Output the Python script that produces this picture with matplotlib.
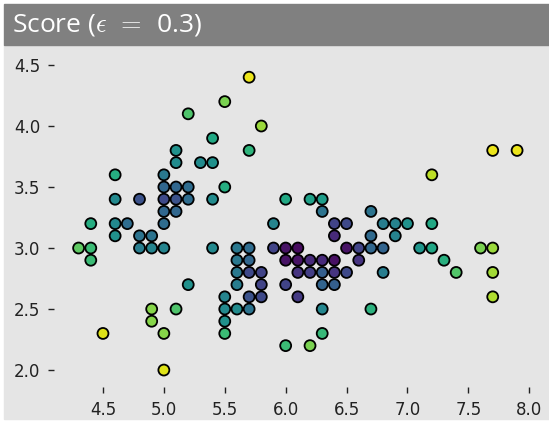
import matplotlib
matplotlib.use("Agg")
import matplotlib.pyplot as plt
from matplotlib.patches import Rectangle

# unique (sepal length, sepal width) points and their score colour value
sepal_length = [4.3, 4.4, 4.4, 4.4, 4.5, 4.6, 4.6, 4.6, 4.6, 4.7,
                4.8, 4.8, 4.8, 4.9, 4.9, 4.9, 4.9, 5.0, 5.0, 5.0,
                5.0, 5.0, 5.0, 5.0, 5.0, 5.1, 5.1, 5.1, 5.1, 5.1,
                5.1, 5.2, 5.2, 5.2, 5.2, 5.3, 5.4, 5.4, 5.4, 5.4,
                5.5, 5.5, 5.7, 5.8, 5.7, 5.5, 5.5, 5.5, 5.5, 5.6,
                5.6, 5.6, 5.6, 5.6, 5.7, 5.7, 5.7, 5.7, 5.7, 5.8,
                5.8, 5.8, 5.9, 5.9, 6.0, 6.0, 6.0, 6.0, 6.0, 6.1,
                6.1, 6.1, 6.1, 6.2, 6.2, 6.2, 6.2, 6.3, 6.3, 6.3,
                6.3, 6.3, 6.3, 6.3, 6.4, 6.4, 6.4, 6.4, 6.4, 6.5,
                6.5, 6.5, 6.6, 6.6, 6.7, 6.7, 6.7, 6.7, 6.8, 6.8,
                6.8, 6.9, 6.9, 7.0, 7.1, 7.2, 7.2, 7.2, 7.3, 7.4,
                7.6, 7.7, 7.7, 7.7, 7.7, 7.9]
sepal_width = [3.0, 3.0, 2.9, 3.2, 2.3, 3.1, 3.2, 3.4, 3.6, 3.2,
               3.4, 3.0, 3.1, 3.0, 3.1, 2.5, 2.4, 3.0, 3.2, 3.3,
               3.4, 3.5, 3.6, 2.3, 2.0, 3.3, 3.4, 3.5, 3.7, 3.8,
               2.5, 3.4, 3.5, 4.1, 2.7, 3.7, 3.9, 3.7, 3.4, 3.0,
               4.2, 3.5, 3.8, 4.0, 4.4, 2.3, 2.4, 2.5, 2.6, 2.5,
               2.7, 2.8, 2.9, 3.0, 2.5, 2.6, 2.8, 2.9, 3.0, 2.6,
               2.7, 2.8, 3.0, 3.2, 3.0, 2.9, 2.7, 2.2, 3.4, 3.0,
               2.9, 2.8, 2.6, 2.9, 2.8, 3.4, 2.2, 2.9, 2.8, 2.7,
               2.5, 2.3, 3.3, 3.4, 3.2, 3.1, 2.9, 2.8, 2.7, 3.2,
               3.0, 2.8, 3.0, 2.9, 3.0, 3.1, 3.3, 2.5, 3.0, 3.2,
               2.8, 3.2, 3.1, 3.2, 3.0, 3.0, 3.2, 3.6, 2.9, 2.8,
               3.0, 3.0, 2.8, 2.6, 3.8, 3.8]
score = [0.75, 0.68, 0.68, 0.62, 0.95, 0.50, 0.47, 0.47, 0.62, 0.35,
         0.25, 0.42, 0.38, 0.45, 0.38, 0.82, 0.82, 0.45, 0.35, 0.33,
         0.22, 0.33, 0.40, 0.82, 0.95, 0.33, 0.25, 0.33, 0.48, 0.50,
         0.72, 0.35, 0.35, 0.72, 0.50, 0.48, 0.60, 0.50, 0.48, 0.47,
         0.80, 0.62, 0.65, 0.85, 0.97, 0.68, 0.50, 0.47, 0.45, 0.48,
         0.42, 0.40, 0.40, 0.40, 0.38, 0.25, 0.22, 0.33, 0.35, 0.22,
         0.20, 0.20, 0.20, 0.45, 0.05, 0.05, 0.20, 0.68, 0.60, 0.03,
         0.05, 0.15, 0.17, 0.12, 0.18, 0.57, 0.80, 0.12, 0.30, 0.32,
         0.46, 0.67, 0.38, 0.55, 0.20, 0.12, 0.04, 0.15, 0.30, 0.22,
         0.05, 0.22, 0.20, 0.15, 0.33, 0.34, 0.38, 0.64, 0.32, 0.42,
         0.42, 0.44, 0.44, 0.50, 0.52, 0.59, 0.60, 0.90, 0.63, 0.73,
         0.80, 0.85, 0.86, 0.88, 0.97, 0.97]

x_ticks = [4.5, 5.0, 5.5, 6.0, 6.5, 7.0, 7.5, 8.0]
y_ticks = [2.0, 2.5, 3.0, 3.5, 4.0, 4.5]

plt.rcParams["mathtext.fontset"] = "cm"

W, H = 549, 421
fig = plt.figure(figsize=(W / 100, H / 100), dpi=100, facecolor="white")

# gray panel + title bar (behind the axes)
fig.patches.append(Rectangle((4 / W, 2 / H), 1, (H - 45 - 2) / H,
                             transform=fig.transFigure, color="#e5e5e5", zorder=-2))
fig.patches.append(Rectangle((4 / W, (H - 45) / H), 1, 41 / H,
                             transform=fig.transFigure, color="#808080", zorder=-2))
fig.text(12 / W, (H - 25) / H, r"Score ($\epsilon\;\,=\;\,$0.3)", color="white",
         fontsize=19, family=["Open Sans", "DejaVu Sans"], va="center", ha="left")

ax = fig.add_axes([54 / W, (H - 387) / H, (549 - 54) / W, (387 - 45) / H])
ax.patch.set_alpha(0)
ax.scatter(sepal_length, sepal_width, c=score, cmap="viridis", vmin=0, vmax=1,
           s=62, edgecolors="black", linewidths=1.3, zorder=3)

ax.set_xlim(4.098, 8.162)
ax.set_ylim(1.861, 4.664)
ax.set_xticks(x_ticks)
ax.set_yticks(y_ticks)
ax.set_xticklabels([f"{t:.1f}" for t in x_ticks])
ax.set_yticklabels([f"{t:.1f}" for t in y_ticks])
ax.tick_params(direction="out", length=4, width=1, color="#222222",
               labelsize=12, labelcolor="#222222", pad=6)
for s in ax.spines.values():
    s.set_visible(False)

fig.savefig("out.png", dpi=100, facecolor="white")
